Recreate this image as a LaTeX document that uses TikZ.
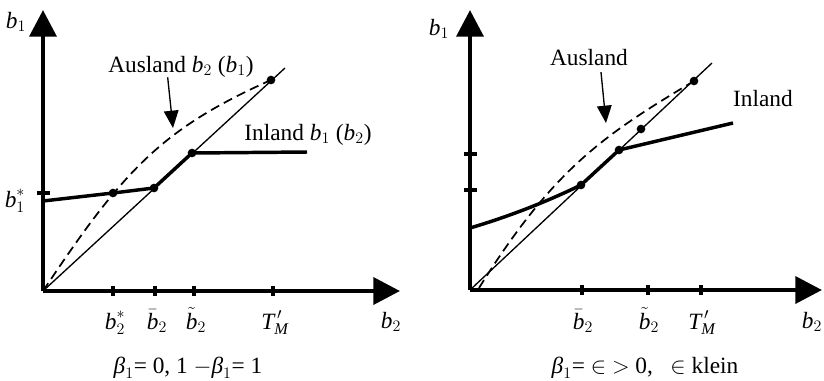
\documentclass[tikz,border=0pt]{standalone}
\usepackage{amsmath}
\usepackage{fontspec}
\setmainfont{Liberation Serif}
\usetikzlibrary{arrows.meta, positioning}

\begin{document}
\begin{tikzpicture}[x=0.75pt, y=-0.75pt,
    every node/.style={font=\fontsize{17.5}{21}\selectfont, inner sep=0pt},
    axis/.style={line width=3.5pt, -{Triangle[length=20pt, width=20pt]}},
    tickmark/.style={line width=2.5pt},
    diag/.style={line width=1pt},
    resp/.style={line width=2.6pt, line join=round},
    foreign/.style={line width=1.3pt, dash pattern=on 7pt off 4pt},
    dot/.style={circle, fill=black, inner sep=0pt, minimum size=6.5pt},
    pointer/.style={line width=1pt, -{Triangle[length=13pt, width=11pt]}},
    lbl/.style={anchor=base}]
  \useasboundingbox (0,0) rectangle (824,380);

  % beta_1 = 0
  \coordinate (L-o) at (43,291);
  \coordinate (L-ytip) at (43,10);
  \coordinate (L-xtip) at (400,291);
  \coordinate (L-dend) at (285,68);
  \coordinate (L-p1) at (113,193);
  \coordinate (L-p2) at (154,188);
  \coordinate (L-p3) at (192,153);
  \coordinate (L-p4) at (271,80);
  \coordinate (L-i0) at (43,201);
  \coordinate (L-iend) at (307,152);
  \coordinate (L-ptr) at (173,128);

  \draw[axis] (L-o) -- (L-ytip);
  \draw[axis] (L-o) -- (L-xtip);
  \node[lbl] (L-b1) at (16,28) {$\textit{b}_1$};
  \node[lbl] (L-b2) at (391,328) {$\textit{b}_2$};
  \foreach \x/\name/\txt in {113/bs/{$\textit{b}_2^{*}$}, 155/bb/{$\bar{\textit{b}}_2$},
      194/bt/{$\tilde{\textit{b}}_2$}, 273/tm/{$\textit{T}^{\,\prime}_{\textit{M}}$}} {
    \draw[tickmark] (\x,286) -- (\x,296);
    \node[lbl] (L-\name) at (\x+2,329) {\txt};
  }
  \draw[tickmark] (37,193) -- (50,193);
  \node[lbl] (L-b1s) at (15,207) {$\textit{b}_1^{*}$};

  \draw[diag] (L-o) -- (L-dend);
  \draw[foreign] (L-o) .. controls (123,171) and (161,129) .. (L-p4);
  \draw[resp] (L-i0) -- (L-p1) -- (L-p2) -- (L-p3) -- (L-iend);
  \foreach \p in {p1,p2,p3,p4} \node[dot] (L-d\p) at (L-\p) {};

  \node[lbl] (L-aus) at (181,72) {Ausland $\textit{b}_2$ ($\textit{b}_1$)};
  \node[lbl] (L-inl) at (308,140) {Inland $\textit{b}_1$ ($\textit{b}_2$)};
  \draw[pointer] ([xshift=-10pt]L-aus.south) -- (L-ptr);
  \node[lbl] (L-cap) at (188,373) {$\textit{β}_1$= 0, 1 $-\textit{β}_1$= 1};

  % beta_1 = epsilon > 0
  \coordinate (R-o) at (470,290);
  \coordinate (R-ytip) at (470,10);
  \coordinate (R-xtip) at (822,290);
  \coordinate (R-dend) at (712,63);
  \coordinate (R-p1) at (581,185);
  \coordinate (R-p2) at (619,150);
  \coordinate (R-p3) at (641,129);
  \coordinate (R-p4) at (694,81);
  \coordinate (R-i0) at (470,228);
  \coordinate (R-iend) at (733,123);
  \coordinate (R-a0) at (479,288);
  \coordinate (R-ptr) at (606,123);

  \draw[axis] (R-o) -- (R-ytip);
  \draw[axis] (R-o) -- (R-xtip);
  \node[lbl] (R-b1) at (439,35) {$\textit{b}_1$};
  \node[lbl] (R-b2) at (812,328) {$\textit{b}_2$};
  \foreach \x/\name/\txt in {582/bb/{$\bar{\textit{b}}_2$}, 648/bt/{$\tilde{\textit{b}}_2$},
      701/tm/{$\textit{T}^{\,\prime}_{\textit{M}}$}} {
    \draw[tickmark] (\x,285) -- (\x,295);
    \node[lbl] (R-\name) at (\x+1,329) {\txt};
  }
  \foreach \y in {154,190} \draw[tickmark] (464,\y) -- (477,\y);

  \draw[diag] (R-o) -- (R-dend);
  \draw[foreign] (R-a0) .. controls (554,168) and (604,135) .. (R-p4);
  \draw[resp] (R-i0) .. controls (507,217) and (544,203) .. (R-p1) -- (R-p2) -- (R-iend);
  \foreach \p in {p1,p2,p3,p4} \node[dot] (R-d\p) at (R-\p) {};

  \node[lbl] (R-aus) at (589,65) {Ausland};
  \node[lbl] (R-inl) at (763,106) {Inland};
  \draw[pointer] ([xshift=9pt,yshift=-5pt]R-aus.south) -- (R-ptr);
  \node[lbl] (R-cap) at (645,373) {$\textit{β}_1$= $\in$ $>$ 0,\ \ \ $\in$ klein};
\end{tikzpicture}
\end{document}
